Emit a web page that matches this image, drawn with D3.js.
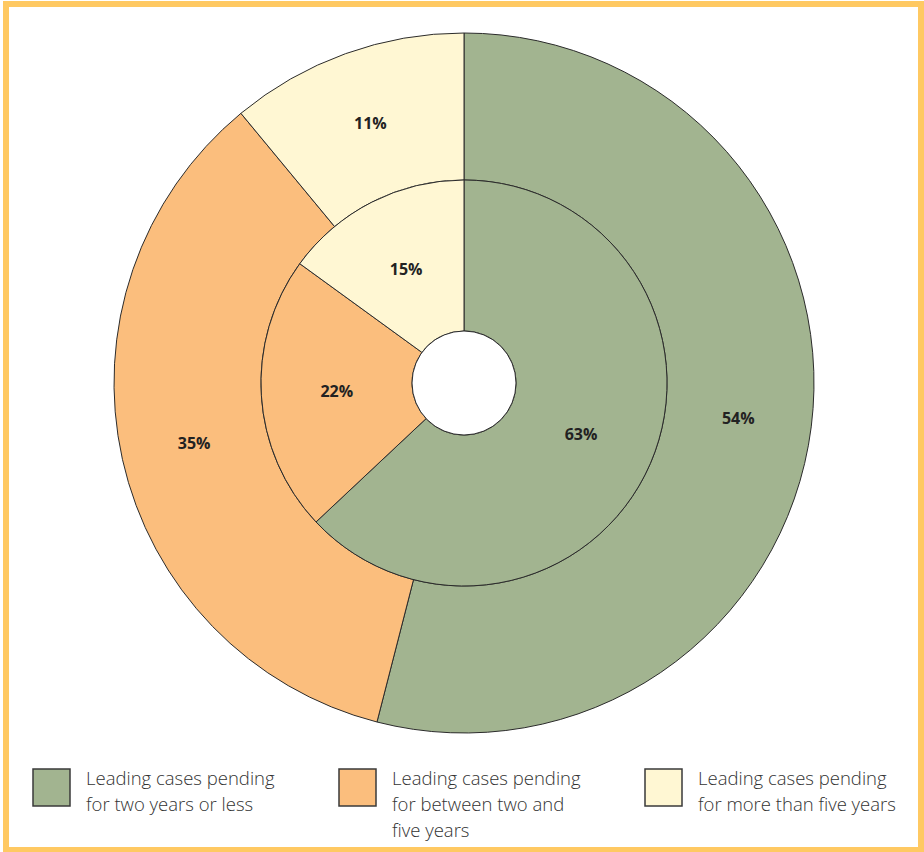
<!DOCTYPE html>
<html lang="en">
<head>
<meta charset="UTF-8">
<title>Leading cases pending</title>
<script src="https://cdn.jsdelivr.net/npm/d3@7"></script>
<style>
    html, body { margin: 0; padding: 0; background: #fff; }
    svg { display: block; }
</style>
</head>
<body>
<svg id="chart" width="924" height="852"></svg>
<script>
    // data
    const categories = [
        "Leading cases pending for two years or less",
        "Leading cases pending for between two and five years",
        "Leading cases pending for more than five years"
    ];
    const innerValues = [63, 22, 15];
    const outerValues = [54, 35, 11];
    const legendLines = [
        ["Leading cases pending", "for two years or less"],
        ["Leading cases pending", "for between two and", "five years"],
        ["Leading cases pending", "for more than five years"]
    ];
    const colors = ["#a2b490", "#fbbe7d", "#fff7d3"];

    const svg = d3.select("#chart");

    // frame
    svg.append("rect")
        .attr("x", 6).attr("y", 4)
        .attr("width", 915).attr("height", 846)
        .attr("fill", "none")
        .attr("stroke", "#ffc962")
        .attr("stroke-width", 6);

    const cx = 464, cy = 383;
    const rHole = 52, rMid = 203, rOuter = 350;

    const color = d3.scaleOrdinal().domain(categories).range(colors);
    const pie = d3.pie().sort(null).value(d => d.value);

    const g = svg.append("g").attr("transform", `translate(${cx},${cy})`);

    function ring(values, r0, r1) {
        const data = pie(values.map((v, i) => ({ name: categories[i], value: v })));
        const arc = d3.arc().innerRadius(r0).outerRadius(r1);
        const grp = g.append("g");
        grp.selectAll("path")
            .data(data)
            .join("path")
            .attr("d", arc)
            .attr("fill", d => color(d.data.name))
            .attr("stroke", "#2b2b2b")
            .attr("stroke-width", 1);
        grp.selectAll("text")
            .data(data)
            .join("text")
            .attr("transform", d => `translate(${arc.centroid(d)})`)
            .attr("text-anchor", "middle")
            .attr("dominant-baseline", "central")
            .attr("font-family", "Open Sans, sans-serif")
            .attr("font-weight", "bold")
            .attr("font-size", 16)
            .attr("fill", "#222")
            .text(d => d.data.value + "%");
    }

    ring(outerValues, rMid, rOuter);
    ring(innerValues, rHole, rMid);

    g.append("circle")
        .attr("r", rHole)
        .attr("fill", "#fff")
        .attr("stroke", "#2b2b2b")
        .attr("stroke-width", 1);

    // legend
    const legendX = d3.scalePoint().domain(categories).range([33, 645]);
    const item = svg.append("g")
        .selectAll("g")
        .data(categories)
        .join("g")
        .attr("transform", d => `translate(${legendX(d)},769)`);

    item.append("rect")
        .attr("width", 37).attr("height", 37)
        .attr("fill", d => color(d))
        .attr("stroke", "#3a3a3a")
        .attr("stroke-width", 1.5);

    item.append("text")
        .attr("x", 53)
        .attr("y", 16)
        .attr("font-family", "Open Sans, sans-serif")
        .attr("font-size", 18.5)
        .attr("font-weight", 300)
        .attr("fill", "#333")
        .selectAll("tspan")
        .data((d, i) => legendLines[i])
        .join("tspan")
        .attr("x", 53)
        .attr("dy", (d, i) => i === 0 ? 0 : 26)
        .text(d => d);
</script>
</body>
</html>
